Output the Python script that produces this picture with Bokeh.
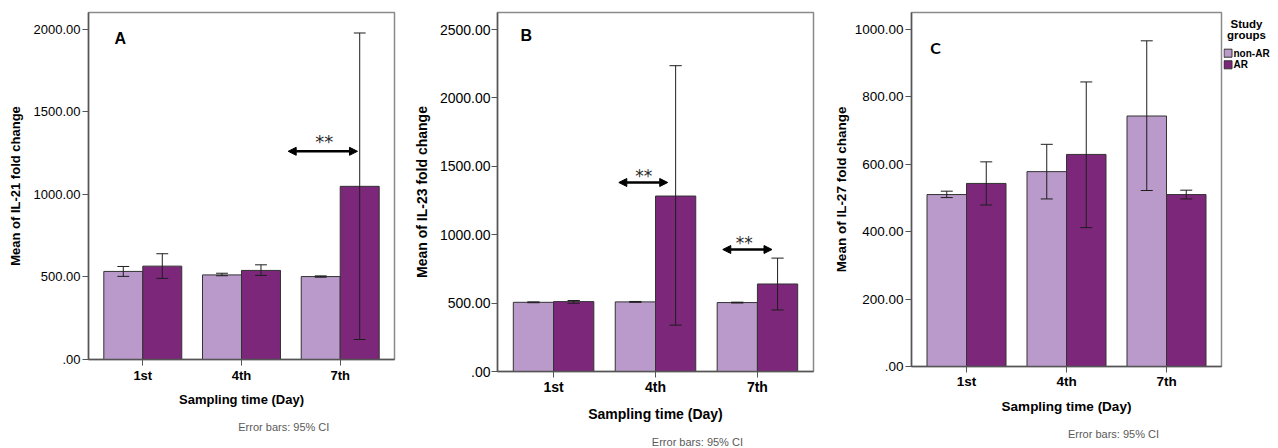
import numpy as np
from bokeh.plotting import figure
from bokeh.models import (Range1d, FixedTicker, Label, Arrow, NormalHead)
from bokeh.layouts import row, column
from bokeh.embed import file_html
from bokeh.resources import INLINE

# ---------------- data ----------------
days = ["1st", "4th", "7th"]
groups = ["non-AR", "AR"]

il21_nonar = [533, 512, 502]
il21_nonar_lo = [503, 507, 498]
il21_nonar_hi = [563, 522, 506]
il21_ar = [565, 539, 1048]
il21_ar_lo = [491, 509, 121]
il21_ar_hi = [640, 573, 1976]

il23_nonar = [506, 509, 504]
il23_nonar_lo = [503, 506, 501]
il23_nonar_hi = [509, 512, 507]
il23_ar = [511, 1283, 640]
il23_ar_lo = [499, 339, 450]
il23_ar_hi = [519, 2236, 829]

il27_nonar = [510, 578, 743]
il27_nonar_lo = [501, 497, 522]
il27_nonar_hi = [520, 659, 966]
il27_ar = [543, 629, 510]
il27_ar_lo = [479, 412, 497]
il27_ar_hi = [607, 844, 523]

il21_ticks = [0, 500, 1000, 1500, 2000]
il23_ticks = [0, 500, 1000, 1500, 2000, 2500]
il27_ticks = [0, 200, 400, 600, 800, 1000]

# ---------------- style ----------------
FONT = "Liberation Sans"
LIGHT = "#b99aca"
DARK = "#7d277b"
EDGE = "#333333"
X0, X1 = 0.45, 3.55
BW = 0.395
CAP = 0.06
H = 448


def fmt(t):
    return ".00" if t == 0 else f"{t:.2f}"


def pixel_fig(x0, w, y0, h):
    """A blank figure whose data units are page pixels (y downwards)."""
    f = figure(width=w, height=h, x_range=Range1d(x0, x0 + w), y_range=Range1d(y0 + h, y0),
               output_backend="svg", toolbar_location=None,
               x_axis_location=None, y_axis_location=None,
               min_border_left=0, min_border_right=0, min_border_top=0, min_border_bottom=0)
    f.outline_line_color = None
    f.xgrid.visible = False
    f.ygrid.visible = False
    f.background_fill_color = "white"
    f.border_fill_color = "white"
    return f


def make_panel(cfg):
    fx0, fw = cfg["fig"]
    mh = cfg["main_h"]
    L, R, T, B = cfg["frame"]
    ymax = cfg["ymax"]
    fs = cfg["fs"]

    def dx(px):
        return X0 + (px - L) / (R - L) * (X1 - X0)

    def dy(py):
        return (B - py) / (B - T) * ymax

    p = figure(width=fw, height=mh, x_range=Range1d(X0, X1), y_range=Range1d(0, ymax),
               output_backend="svg", toolbar_location=None,
               min_border_left=round(L - fx0), min_border_right=round(fx0 + fw - R),
               min_border_top=round(T), min_border_bottom=round(mh - B))
    p.background_fill_color = "white"
    p.border_fill_color = "white"
    p.outline_line_color = "#8a8a8a"
    p.outline_line_width = 1.5
    p.xgrid.visible = False
    p.ygrid.visible = False

    xs = np.arange(1, len(days) + 1, dtype=float)
    p.vbar(x=xs - BW / 2, top=cfg["nonar"], width=BW, bottom=0,
           fill_color=LIGHT, line_color=EDGE, line_width=1)
    p.vbar(x=xs + BW / 2, top=cfg["ar"], width=BW, bottom=0,
           fill_color=DARK, line_color=EDGE, line_width=1)

    for off, lo, hi in [(-BW / 2, cfg["nonar_lo"], cfg["nonar_hi"]),
                        (BW / 2, cfg["ar_lo"], cfg["ar_hi"])]:
        xc = xs + off
        p.segment(x0=xc, y0=lo, x1=xc, y1=hi, line_color="#1e1e1e", line_width=1)
        p.segment(x0=xc - CAP, y0=lo, x1=xc + CAP, y1=lo, line_color="#1e1e1e", line_width=1)
        p.segment(x0=xc - CAP, y0=hi, x1=xc + CAP, y1=hi, line_color="#1e1e1e", line_width=1)

    # axes
    for ax in (p.xaxis[0], p.yaxis[0]):
        ax.axis_line_color = "#555555"
        ax.axis_line_width = 1.5
        ax.major_tick_line_color = "#555555"
        ax.major_tick_in = 0
        ax.major_tick_out = 6
        ax.minor_tick_line_color = None
        ax.major_label_text_font = FONT
        ax.major_label_text_color = "black"
        ax.axis_label_text_font = FONT
        ax.axis_label_text_font_style = "bold"
        ax.axis_label_text_color = "black"
        ax.axis_label_text_font_size = f"{fs}px"
        ax.major_label_text_font_size = f"{fs}px"

    p.xaxis.ticker = FixedTicker(ticks=list(range(1, len(days) + 1)))
    p.xaxis.major_label_overrides = {i + 1: d for i, d in enumerate(days)}
    p.xaxis.major_label_text_font_style = "bold"
    p.xaxis.major_label_standoff = cfg["xts"]
    p.xaxis.axis_label = "Sampling time (Day)"
    p.xaxis.axis_label_standoff = cfg["xls"]

    p.yaxis.ticker = FixedTicker(ticks=cfg["ticks"])
    p.yaxis.major_label_overrides = {t: fmt(t) for t in cfg["ticks"]}
    p.yaxis.major_label_text_font_style = "normal"
    p.yaxis.major_label_standoff = cfg["yts"]
    p.yaxis.axis_label = cfg["ylabel"]
    p.yaxis.axis_label_standoff = cfg["yls"]

    # panel letter
    lx, ly, lfont, lsize = cfg["letter_pos"]
    p.add_layout(Label(x=dx(lx), y=dy(ly), text=cfg["letter"], text_font=lfont,
                       text_font_style="bold", text_font_size=lsize, text_color="black",
                       text_align="center", text_baseline="middle"))

    # significance arrows
    for (xa, xb, ya, sx, sy, ss) in cfg["sig"]:
        p.add_layout(Arrow(x_start=xa, x_end=xb, y_start=ya, y_end=ya,
                           line_color="black", line_width=2.5,
                           start=NormalHead(size=8, fill_color="black", line_color="black", line_width=1),
                           end=NormalHead(size=8, fill_color="black", line_color="black", line_width=1)))
        p.add_layout(Label(x=dx(sx), y=dy(sy), text="**", text_font="DejaVu Sans",
                           text_font_size=ss, text_color="#2a2a2a",
                           text_align="center", text_baseline="middle"))

    # "Error bars" note strip under the chart
    n = pixel_fig(fx0, fw, mh, H - mh)
    nx, ny = cfg["note"]
    n.add_layout(Label(x=nx, y=ny, text="Error bars: 95% CI", text_font=FONT,
                       text_font_size="11px", text_color="#5a5a5a",
                       text_align="center", text_baseline="middle"))
    return column(p, n, spacing=0)


pA = make_panel(dict(fig=(0, 410), main_h=414, frame=(88, 394.3, 12.3, 359.0), ymax=2100, fs=13,
                     nonar=il21_nonar, nonar_lo=il21_nonar_lo, nonar_hi=il21_nonar_hi,
                     ar=il21_ar, ar_lo=il21_ar_lo, ar_hi=il21_ar_hi,
                     ticks=il21_ticks, ylabel="Mean of IL-21 fold change",
                     xts=2, xls=6, yts=2, yls=8, note=(261.7, 426),
                     letter="A", letter_pos=(119.7, 38, FONT, "16px"),
                     sig=[(2.473, 3.175, 1260, 324, 141.3, "18px")]))

pB = make_panel(dict(fig=(410, 420), main_h=424, frame=(494.3, 813.3, 12.3, 372.5), ymax=2625, fs=14,
                     nonar=il23_nonar, nonar_lo=il23_nonar_lo, nonar_hi=il23_nonar_hi,
                     ar=il23_ar, ar_lo=il23_ar_lo, ar_hi=il23_ar_hi,
                     ticks=il23_ticks, ylabel="Mean of IL-23 fold change",
                     xts=1, xls=8, yts=1, yls=7, note=(675.7, 441),
                     letter="B", letter_pos=(523.3, 35, FONT, "16px"),
                     sig=[(1.64, 2.12, 1382, 642, 176.7, "17px"),
                          (2.66, 3.143, 892, 743.3, 243.7, "17px")]))

pC = make_panel(dict(fig=(830, 393), main_h=418, frame=(909.0, 1221.0, 12.3, 366.3), ymax=1050, fs=13.5,
                     nonar=il27_nonar, nonar_lo=il27_nonar_lo, nonar_hi=il27_nonar_hi,
                     ar=il27_ar, ar_lo=il27_ar_lo, ar_hi=il27_ar_hi,
                     ticks=il27_ticks, ylabel="Mean of IL-27 fold change",
                     xts=1, xls=7, yts=2, yls=3, note=(1086, 433),
                     letter="C", letter_pos=(933.3, 47, "Lato", "16px"), sig=[]))

# ---------------- legend panel (pixel coordinates) ----------------
pL = pixel_fig(1223, 55, 0, H)
swatch_y = [52.7, 64.3]
pL.rect(x=[1227.5, 1227.5], y=swatch_y, width=8, height=8,
        fill_color=[LIGHT, DARK], line_color=EDGE, line_width=1)
for g, yy in zip(groups, swatch_y):
    pL.add_layout(Label(x=1233, y=yy, text=g, text_font=FONT, text_font_style="bold",
                        text_font_size="10px", text_color="black",
                        text_align="left", text_baseline="middle"))
for txt, ty in (("Study", 23), ("groups", 34)):
    pL.add_layout(Label(x=1246, y=ty, text=txt, text_font=FONT, text_font_style="bold",
                        text_font_size="11.5px", text_color="black",
                        text_align="center", text_baseline="middle"))

layout = row(pA, pB, pC, pL, spacing=0)
open("out.html", "w").write(file_html(layout, INLINE))
